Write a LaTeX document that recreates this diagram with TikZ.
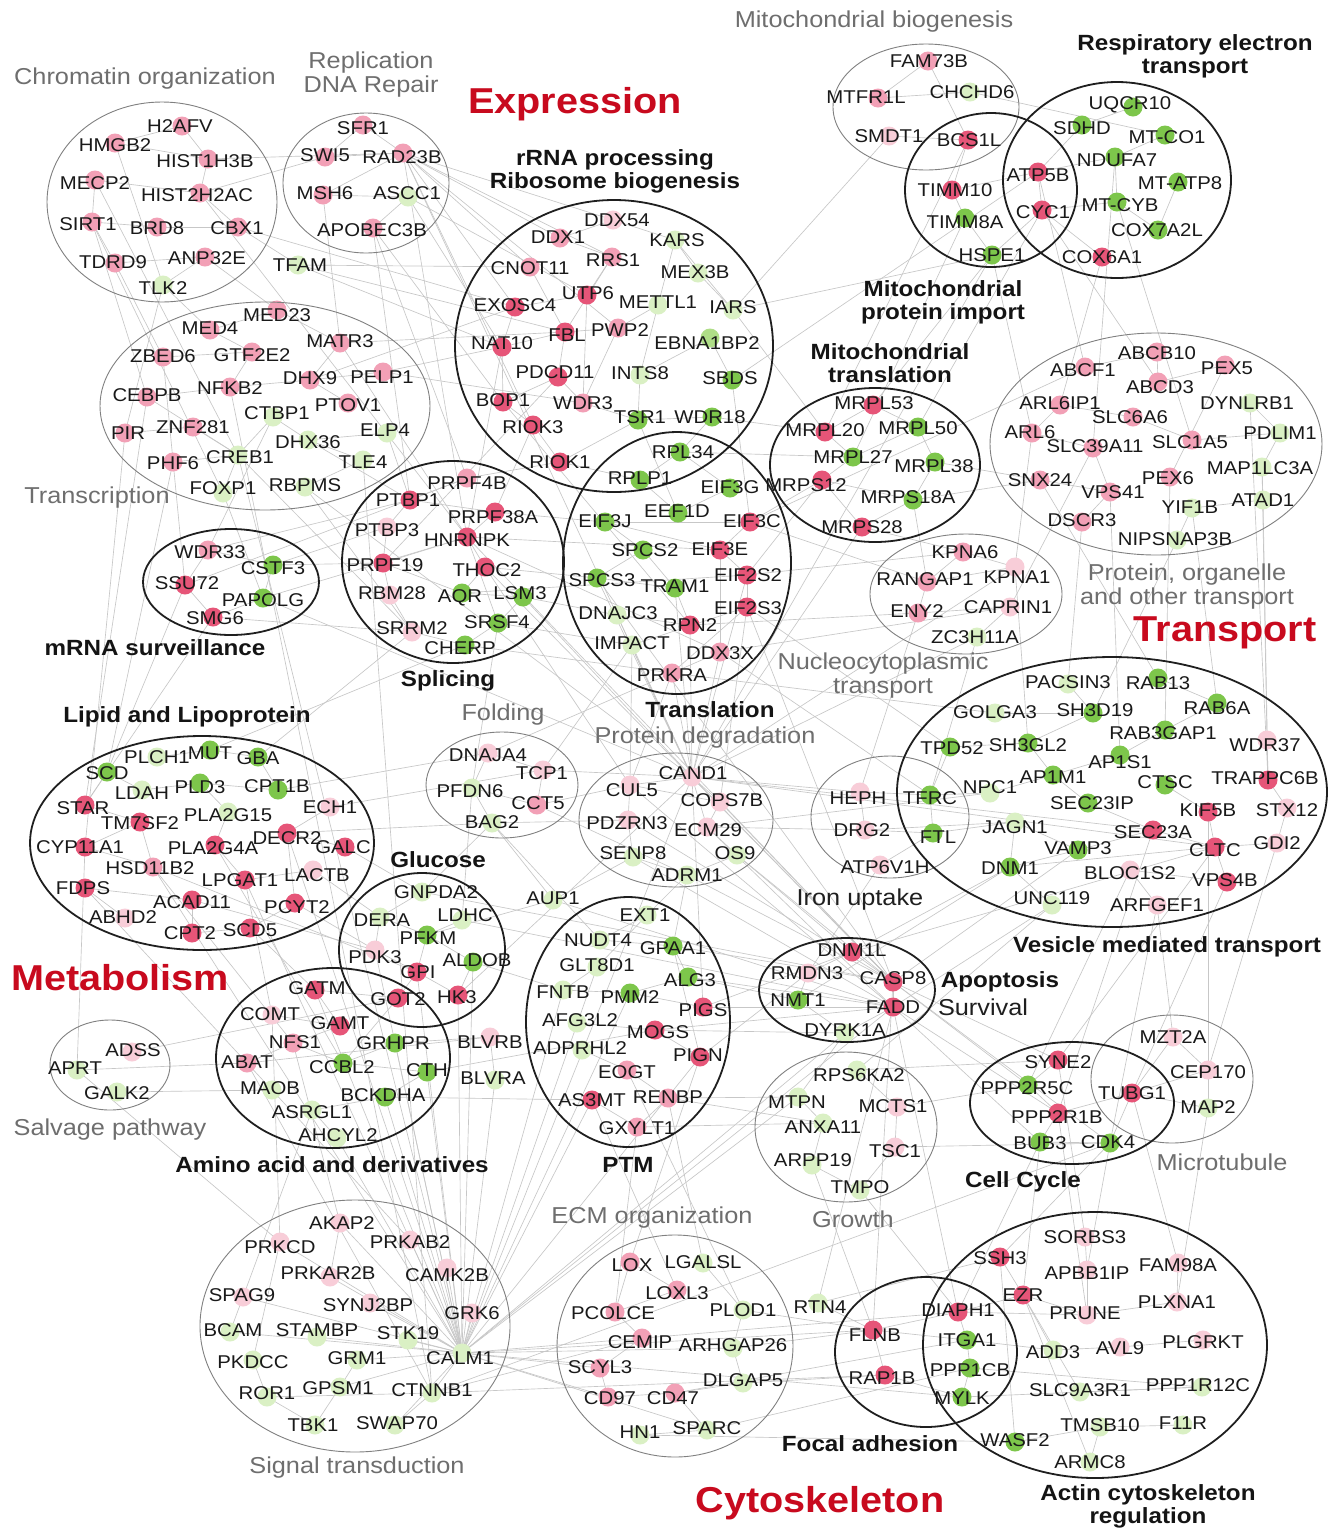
\documentclass[tikz,border=0pt]{standalone}
\usepackage{fontspec}
\setmainfont{Liberation Sans}[FakeStretch=1.1]
\usetikzlibrary{shapes.geometric}
\definecolor{pkL}{RGB}{248,205,216}
\definecolor{pkM}{RGB}{242,160,182}
\definecolor{pkD}{RGB}{230,85,120}
\definecolor{gnL}{RGB}{218,240,196}
\definecolor{gnM}{RGB}{175,222,135}
\definecolor{gnD}{RGB}{125,198,75}
\definecolor{catred}{RGB}{200,10,30}
\definecolor{catgray}{RGB}{110,110,110}
\newcommand\GNc[7]{\coordinate (#1) at (#5,#6);}
\newcommand\GNd[7]{\fill[#7] (#5,#6) circle (9.5pt);}
\newcommand\GNt[7]{\node[gene] (t#1) at (#3,#4) {#2};}
\newcommand\EL[6]{\node[#6, minimum width=#4pt*2, minimum height=#5pt*2] (#1) at (#2,#3) {};}
\newcommand\genelist{%
% chromatin
\GN{H2AFV}{H2AFV}{180}{126}{182}{126}{pkM}
\GN{HMGB2}{HMGB2}{115}{145}{115}{143}{pkM}
\GN{HIST1H3B}{HIST1H3B}{205}{161}{208}{159}{pkM}
\GN{MECP2}{MECP2}{95}{183}{95}{180}{pkM}
\GN{HIST2H2AC}{HIST2H2AC}{197}{195}{200}{193}{pkM}
\GN{SIRT1}{SIRT1}{88}{224}{92}{222}{pkM}
\GN{BRD8}{BRD8}{157}{228}{157}{227}{pkM}
\GN{CBX1}{CBX1}{237}{228}{238}{227}{pkM}
\GN{TDRD9}{TDRD9}{113}{262}{115}{263}{pkM}
\GN{ANP32E}{ANP32E}{207}{258}{205}{257}{pkM}
\GN{TLK2}{TLK2}{163}{288}{163}{285}{gnL}
\GN{TFAM}{TFAM}{300}{265}{298}{265}{gnL}
% replication
\GN{SFR1}{SFR1}{363}{128}{363}{125}{pkM}
\GN{SWI5}{SWI5}{325}{155}{325}{157}{pkM}
\GN{RAD23B}{RAD23B}{402}{157}{403}{153}{pkM}
\GN{MSH6}{MSH6}{325}{193}{323}{195}{pkM}
\GN{ASCC1}{ASCC1}{407}{193}{408}{197}{gnL}
\GN{APOBEC3B}{APOBEC3B}{372}{230}{373}{228}{pkM}
% transcription
\GN{MED4}{MED4}{210}{328}{210}{330}{pkM}
\GN{MED23}{MED23}{277}{315}{277}{310}{pkM}
\GN{MATR3}{MATR3}{340}{341}{340}{343}{pkM}
\GN{ZBED6}{ZBED6}{163}{356}{163}{357}{pkM}
\GN{GTF2E2}{GTF2E2}{252}{355}{252}{352}{pkM}
\GN{DHX9}{DHX9}{310}{378}{310}{380}{pkM}
\GN{PELP1}{PELP1}{382}{377}{383}{372}{pkM}
\GN{CEBPB}{CEBPB}{147}{395}{147}{397}{pkM}
\GN{NFKB2}{NFKB2}{230}{388}{230}{387}{pkM}
\GN{CTBP1}{CTBP1}{277}{413}{273}{417}{gnL}
\GN{PTOV1}{PTOV1}{348}{405}{348}{403}{pkM}
\GN{PIR}{PIR}{128}{433}{125}{433}{pkM}
\GN{ZNF281}{ZNF281}{193}{427}{193}{427}{pkM}
\GN{DHX36}{DHX36}{308}{442}{308}{440}{gnL}
\GN{ELP4}{ELP4}{385}{430}{387}{433}{gnL}
\GN{PHF6}{PHF6}{173}{463}{173}{462}{pkM}
\GN{CREB1}{CREB1}{240}{457}{238}{455}{gnL}
\GN{TLE4}{TLE4}{363}{462}{363}{460}{gnL}
\GN{FOXP1}{FOXP1}{223}{488}{223}{493}{gnL}
\GN{RBPMS}{RBPMS}{305}{485}{305}{487}{gnL}
% rRNA
\GN{DDX54}{DDX54}{617}{220}{613}{220}{pkL}
\GN{DDX1}{DDX1}{558}{237}{560}{238}{pkM}
\GN{KARS}{KARS}{677}{240}{675}{240}{gnL}
\GN{CNOT11}{CNOT11}{530}{268}{530}{267}{pkM}
\GN{RRS1}{RRS1}{613}{260}{612}{257}{pkM}
\GN{MEX3B}{MEX3B}{695}{272}{698}{273}{gnL}
\GN{EXOSC4}{EXOSC4}{515}{305}{515}{307}{pkD}
\GN{UTP6}{UTP6}{588}{293}{587}{295}{pkD}
\GN{METTL1}{METTL1}{658}{302}{658}{305}{gnL}
\GN{IARS}{IARS}{733}{307}{733}{310}{gnL}
\GN{NAT10}{NAT10}{502}{343}{502}{347}{pkD}
\GN{FBL}{FBL}{567}{335}{565}{332}{pkD}
\GN{PWP2}{PWP2}{620}{330}{618}{328}{pkM}
\GN{EBNA1BP2}{EBNA1BP2}{707}{343}{710}{338}{gnM}
\GN{PDCD11}{PDCD11}{555}{372}{558}{377}{pkD}
\GN{INTS8}{INTS8}{640}{373}{640}{375}{gnL}
\GN{SBDS}{SBDS}{730}{378}{732}{380}{gnD}
\GN{BOP1}{BOP1}{503}{400}{503}{402}{pkD}
\GN{WDR3}{WDR3}{583}{403}{583}{403}{pkM}
\GN{TSR1}{TSR1}{640}{417}{638}{420}{gnD}
\GN{WDR18}{WDR18}{710}{417}{712}{417}{gnD}
\GN{RIOK3}{RIOK3}{533}{427}{533}{425}{pkD}
\GN{RIOK1}{RIOK1}{560}{462}{560}{462}{pkD}
% translation
\GN{RPL34}{RPL34}{683}{452}{680}{452}{gnD}
\GN{RPLP1}{RPLP1}{640}{478}{640}{480}{gnD}
\GN{EIF3G}{EIF3G}{730}{487}{730}{488}{gnD}
\GN{EEF1D}{EEF1D}{677}{511}{678}{513}{gnD}
\GN{EIF3J}{EIF3J}{605}{521}{605}{522}{gnD}
\GN{EIF3C}{EIF3C}{752}{521}{750}{522}{pkD}
\GN{SPCS2}{SPCS2}{645}{550}{643}{550}{gnD}
\GN{EIF3E}{EIF3E}{720}{549}{720}{550}{pkD}
\GN{SPCS3}{SPCS3}{602}{580}{597}{578}{gnD}
\GN{TRAM1}{TRAM1}{675}{586}{675}{588}{gnD}
\GN{EIF2S2}{EIF2S2}{748}{575}{747}{575}{pkD}
\GN{DNAJC3}{DNAJC3}{618}{613}{617}{615}{gnL}
\GN{EIF2S3}{EIF2S3}{748}{608}{747}{607}{pkD}
\GN{RPN2}{RPN2}{690}{625}{690}{625}{pkD}
\GN{IMPACT}{IMPACT}{632}{643}{632}{645}{gnL}
\GN{DDX3X}{DDX3X}{720}{653}{720}{652}{pkM}
\GN{PRKRA}{PRKRA}{672}{675}{672}{673}{pkM}
% splicing
\GN{PRPF4B}{PRPF4B}{467}{483}{467}{478}{pkM}
\GN{PTBP1}{PTBP1}{408}{500}{410}{500}{pkD}
\GN{PRPF38A}{PRPF38A}{493}{517}{495}{512}{pkD}
\GN{PTBP3}{PTBP3}{387}{530}{387}{527}{pkL}
\GN{HNRNPK}{HNRNPK}{467}{540}{467}{537}{pkD}
\GN{PRPF19}{PRPF19}{385}{565}{383}{563}{pkD}
\GN{THOC2}{THOC2}{487}{570}{485}{567}{pkD}
\GN{RBM28}{RBM28}{392}{593}{390}{595}{pkL}
\GN{AQR}{AQR}{460}{598}{462}{593}{gnD}
\GN{LSM3}{LSM3}{520}{593}{523}{597}{gnD}
\GN{SRRM2}{SRRM2}{412}{628}{412}{632}{pkL}
\GN{SRSF4}{SRSF4}{497}{622}{498}{623}{gnD}
\GN{CHERP}{CHERP}{460}{648}{465}{645}{gnD}
% mRNA surveillance
\GN{WDR33}{WDR33}{210}{552}{208}{550}{pkM}
\GN{CSTF3}{CSTF3}{273}{568}{273}{565}{gnD}
\GN{SSU72}{SSU72}{187}{583}{185}{585}{pkD}
\GN{PAPOLG}{PAPOLG}{263}{600}{263}{598}{gnD}
\GN{SMG6}{SMG6}{215}{618}{213}{617}{pkD}
% mito biogenesis / import / respiratory
\GN{FAM73B}{FAM73B}{929}{61}{928}{61}{pkM}
\GN{MTFR1L}{MTFR1L}{866}{97}{878}{98}{pkM}
\GN{CHCHD6}{CHCHD6}{972}{92}{970}{92}{gnL}
\GN{SMDT1}{SMDT1}{889}{136}{889}{136}{pkL}
\GN{BCS1L}{BCS1L}{969}{140}{968}{140}{pkD}
\GN{TIMM10}{TIMM10}{955}{190}{952}{190}{pkD}
\GN{TIMM8A}{TIMM8A}{965}{222}{965}{218}{gnD}
\GN{HSPE1}{HSPE1}{992}{255}{992}{255}{gnD}
\GN{ATP5B}{ATP5B}{1038}{175}{1038}{172}{pkD}
\GN{CYC1}{CYC1}{1043}{212}{1042}{210}{pkD}
\GN{UQCR10}{UQCR10}{1130}{105}{1133}{107}{gnD}
\GN{SDHD}{SDHD}{1082}{128}{1082}{125}{gnD}
\GN{MTCO1}{MT-CO1}{1167}{137}{1165}{135}{gnD}
\GN{NDUFA7}{NDUFA7}{1117}{160}{1115}{157}{gnD}
\GN{MTATP8}{MT-ATP8}{1180}{183}{1178}{182}{gnD}
\GN{MTCYB}{MT-CYB}{1120}{205}{1117}{202}{gnD}
\GN{COX7A2L}{COX7A2L}{1157}{230}{1158}{230}{gnD}
\GN{COX6A1}{COX6A1}{1102}{257}{1102}{257}{pkD}
% mito translation
\GN{MRPL53}{MRPL53}{874}{403}{873}{405}{pkD}
\GN{MRPL20}{MRPL20}{825}{430}{825}{432}{pkD}
\GN{MRPL50}{MRPL50}{918}{428}{918}{427}{gnD}
\GN{MRPL27}{MRPL27}{853}{457}{853}{457}{gnD}
\GN{MRPL38}{MRPL38}{934}{466}{935}{462}{gnD}
\GN{MRPS12}{MRPS12}{806}{485}{822}{480}{pkD}
\GN{MRPS18A}{MRPS18A}{908}{497}{913}{500}{gnD}
\GN{MRPS28}{MRPS28}{862}{527}{862}{527}{pkD}
% protein organelle transport
\GN{ABCB10}{ABCB10}{1157}{353}{1157}{352}{pkM}
\GN{ABCF1}{ABCF1}{1083}{370}{1085}{367}{pkM}
\GN{PEX5}{PEX5}{1227}{368}{1225}{365}{pkM}
\GN{ABCD3}{ABCD3}{1160}{387}{1158}{382}{pkM}
\GN{ARL6IP1}{ARL6IP1}{1060}{403}{1060}{405}{pkM}
\GN{DYNLRB1}{DYNLRB1}{1247}{403}{1250}{403}{gnL}
\GN{SLC6A6}{SLC6A6}{1130}{417}{1133}{417}{pkM}
\GN{ARL6}{ARL6}{1030}{432}{1032}{433}{pkM}
\GN{SLC39A11}{SLC39A11}{1095}{446}{1093}{448}{pkM}
\GN{SLC1A5}{SLC1A5}{1190}{442}{1192}{440}{pkM}
\GN{PDLIM1}{PDLIM1}{1280}{433}{1280}{433}{gnL}
\GN{SNX24}{SNX24}{1040}{480}{1040}{480}{pkM}
\GN{VPS41}{VPS41}{1113}{492}{1110}{492}{pkM}
\GN{PEX6}{PEX6}{1168}{478}{1170}{477}{pkM}
\GN{MAP1LC3A}{MAP1LC3A}{1260}{468}{1262}{467}{gnL}
\GN{YIF1B}{YIF1B}{1190}{507}{1192}{508}{gnL}
\GN{ATAD1}{ATAD1}{1263}{500}{1263}{500}{gnL}
\GN{DSCR3}{DSCR3}{1082}{520}{1082}{522}{pkM}
\GN{NIPSNAP3B}{NIPSNAP3B}{1175}{539}{1177}{540}{gnL}
% nucleocytoplasmic
\GN{KPNA6}{KPNA6}{965}{552}{963}{552}{pkM}
\GN{RANGAP1}{RANGAP1}{925}{579}{927}{582}{pkM}
\GN{KPNA1}{KPNA1}{1017}{577}{1015}{567}{pkL}
\GN{ENY2}{ENY2}{917}{611}{918}{613}{pkM}
\GN{CAPRIN1}{CAPRIN1}{1008}{607}{1010}{607}{pkL}
\GN{ZC3H11A}{ZC3H11A}{975}{637}{977}{637}{gnL}
% vesicle
\GN{PACSIN3}{PACSIN3}{1068}{682}{1068}{684}{gnL}
\GN{RAB13}{RAB13}{1158}{683}{1158}{678}{gnD}
\GN{GOLGA3}{GOLGA3}{995}{712}{995}{713}{gnL}
\GN{SH3D19}{SH3D19}{1095}{710}{1093}{713}{gnD}
\GN{RAB6A}{RAB6A}{1217}{708}{1217}{703}{gnD}
\GN{TPD52}{TPD52}{952}{748}{950}{747}{gnD}
\GN{SH3GL2}{SH3GL2}{1028}{745}{1028}{743}{gnD}
\GN{RAB3GAP1}{RAB3GAP1}{1163}{733}{1165}{730}{gnD}
\GN{WDR37}{WDR37}{1265}{745}{1267}{740}{pkL}
\GN{AP1S1}{AP1S1}{1120}{762}{1120}{755}{gnD}
\GN{AP1M1}{AP1M1}{1053}{777}{1053}{775}{gnD}
\GN{NPC1}{NPC1}{990}{787}{990}{793}{gnL}
\GN{CTSC}{CTSC}{1165}{782}{1165}{785}{gnD}
\GN{TRAPPC6B}{TRAPPC6B}{1265}{778}{1268}{780}{pkD}
\GN{SEC23IP}{SEC23IP}{1092}{803}{1088}{803}{gnD}
\GN{KIF5B}{KIF5B}{1208}{810}{1208}{812}{pkD}
\GN{STX12}{STX12}{1287}{810}{1287}{808}{pkL}
\GN{JAGN1}{JAGN1}{1015}{827}{1015}{822}{gnL}
\GN{SEC23A}{SEC23A}{1153}{832}{1153}{830}{pkD}
\GN{CLTC}{CLTC}{1215}{850}{1215}{847}{pkD}
\GN{GDI2}{GDI2}{1277}{843}{1277}{843}{pkL}
\GN{VAMP3}{VAMP3}{1078}{848}{1078}{850}{gnD}
\GN{DNM1}{DNM1}{1010}{868}{1010}{867}{gnD}
\GN{BLOC1S2}{BLOC1S2}{1130}{873}{1130}{870}{pkL}
\GN{VPS4B}{VPS4B}{1225}{880}{1227}{882}{pkD}
\GN{UNC119}{UNC119}{1052}{898}{1052}{905}{gnL}
\GN{ARFGEF1}{ARFGEF1}{1157}{905}{1157}{905}{pkL}
% iron
\GN{HEPH}{HEPH}{858}{798}{860}{792}{pkL}
\GN{TFRC}{TFRC}{930}{798}{930}{795}{gnD}
\GN{DRG2}{DRG2}{862}{830}{865}{830}{pkL}
\GN{FTL}{FTL}{938}{837}{933}{833}{gnD}
\GN{ATP6V1H}{ATP6V1H}{885}{867}{880}{865}{pkL}
% lipid
\GN{PLCH1}{PLCH1}{157}{757}{157}{757}{gnL}
\GN{MUT}{MUT}{210}{753}{210}{750}{gnD}
\GN{GBA}{GBA}{258}{758}{258}{757}{gnD}
\GN{SCD}{SCD}{107}{773}{107}{772}{gnD}
\GN{LDAH}{LDAH}{142}{793}{142}{790}{gnL}
\GN{PLD3}{PLD3}{200}{787}{200}{783}{gnD}
\GN{CPT1B}{CPT1B}{277}{786}{278}{790}{gnD}
\GN{STAR}{STAR}{83}{808}{85}{805}{pkD}
\GN{ECH1}{ECH1}{330}{807}{330}{807}{pkL}
\GN{TM7SF2}{TM7SF2}{140}{823}{140}{822}{pkD}
\GN{PLA2G15}{PLA2G15}{228}{815}{228}{812}{gnL}
\GN{CYP11A1}{CYP11A1}{80}{847}{85}{847}{pkD}
\GN{PLA2G4A}{PLA2G4A}{213}{848}{215}{845}{pkD}
\GN{DECR2}{DECR2}{287}{838}{287}{833}{pkD}
\GN{GALC}{GALC}{343}{847}{345}{847}{pkD}
\GN{HSD11B2}{HSD11B2}{150}{868}{153}{867}{pkM}
\GN{LPGAT1}{LPGAT1}{240}{880}{245}{880}{pkD}
\GN{LACTB}{LACTB}{317}{875}{313}{870}{pkL}
\GN{FDPS}{FDPS}{83}{888}{85}{888}{pkD}
\GN{ACAD11}{ACAD11}{192}{902}{192}{900}{pkD}
\GN{PCYT2}{PCYT2}{297}{907}{295}{903}{pkD}
\GN{ABHD2}{ABHD2}{123}{917}{125}{918}{pkL}
\GN{CPT2}{CPT2}{190}{933}{192}{933}{pkD}
\GN{SCD5}{SCD5}{250}{930}{250}{928}{pkD}
% folding
\GN{DNAJA4}{DNAJA4}{488}{755}{488}{753}{pkL}
\GN{TCP1}{TCP1}{542}{773}{543}{770}{pkL}
\GN{PFDN6}{PFDN6}{470}{791}{472}{788}{gnL}
\GN{CCT5}{CCT5}{538}{803}{537}{805}{pkM}
\GN{BAG2}{BAG2}{492}{822}{492}{823}{gnL}
% degradation
\GN{CAND1}{CAND1}{693}{773}{692}{777}{pkL}
\GN{CUL5}{CUL5}{632}{790}{630}{785}{pkL}
\GN{COPS7B}{COPS7B}{722}{800}{720}{802}{pkL}
\GN{PDZRN3}{PDZRN3}{627}{823}{628}{820}{pkL}
\GN{ECM29}{ECM29}{708}{830}{707}{827}{pkL}
\GN{SENP8}{SENP8}{633}{853}{633}{857}{gnL}
\GN{OS9}{OS9}{735}{853}{737}{855}{gnL}
\GN{ADRM1}{ADRM1}{687}{875}{687}{875}{gnL}
\GN{AUP1}{AUP1}{553}{898}{553}{900}{gnL}
% glucose
\GN{GNPDA2}{GNPDA2}{436}{892}{422}{892}{gnL}
\GN{DERA}{DERA}{382}{920}{380}{917}{gnL}
\GN{LDHC}{LDHC}{465}{915}{462}{920}{gnL}
\GN{PFKM}{PFKM}{428}{938}{427}{935}{gnD}
\GN{PDK3}{PDK3}{375}{957}{375}{950}{pkL}
\GN{ALDOB}{ALDOB}{477}{960}{473}{962}{gnD}
\GN{GPI}{GPI}{418}{972}{417}{972}{pkD}
\GN{HK3}{HK3}{457}{997}{458}{995}{pkD}
\GN{GOT2}{GOT2}{398}{999}{398}{998}{pkD}
% amino acid
\GN{GATM}{GATM}{317}{988}{315}{990}{pkD}
\GN{COMT}{COMT}{270}{1014}{272}{1015}{pkL}
\GN{GAMT}{GAMT}{340}{1023}{340}{1026}{pkD}
\GN{NFS1}{NFS1}{295}{1042}{293}{1043}{pkM}
\GN{GRHPR}{GRHPR}{393}{1043}{395}{1043}{gnD}
\GN{ABAT}{ABAT}{247}{1062}{247}{1063}{pkM}
\GN{CCBL2}{CCBL2}{342}{1067}{343}{1063}{gnD}
\GN{CTH}{CTH}{427}{1070}{427}{1072}{gnD}
\GN{MAOB}{MAOB}{270}{1088}{272}{1090}{gnL}
\GN{BCKDHA}{BCKDHA}{383}{1095}{385}{1097}{gnD}
\GN{ASRGL1}{ASRGL1}{312}{1112}{312}{1110}{gnL}
\GN{AHCYL2}{AHCYL2}{338}{1135}{337}{1138}{gnL}
\GN{BLVRB}{BLVRB}{490}{1042}{490}{1037}{pkL}
\GN{BLVRA}{BLVRA}{493}{1078}{495}{1080}{gnL}
% salvage
\GN{ADSS}{ADSS}{133}{1050}{132}{1052}{pkL}
\GN{APRT}{APRT}{75}{1068}{77}{1070}{gnL}
\GN{GALK2}{GALK2}{117}{1093}{117}{1092}{gnL}
% signal transduction
\GN{AKAP2}{AKAP2}{342}{1223}{340}{1223}{pkL}
\GN{PRKCD}{PRKCD}{280}{1247}{280}{1242}{pkL}
\GN{PRKAB2}{PRKAB2}{410}{1242}{410}{1240}{pkL}
\GN{PRKAR2B}{PRKAR2B}{328}{1273}{330}{1277}{pkL}
\GN{CAMK2B}{CAMK2B}{447}{1275}{447}{1268}{pkL}
\GN{SPAG9}{SPAG9}{242}{1295}{243}{1297}{pkL}
\GN{SYNJ2BP}{SYNJ2BP}{368}{1305}{370}{1303}{pkL}
\GN{GRK6}{GRK6}{472}{1313}{472}{1313}{pkL}
\GN{BCAM}{BCAM}{233}{1330}{230}{1332}{gnL}
\GN{STAMBP}{STAMBP}{317}{1330}{317}{1337}{gnL}
\GN{STK19}{STK19}{408}{1333}{408}{1340}{gnL}
\GN{PKDCC}{PKDCC}{253}{1362}{253}{1360}{gnL}
\GN{GRM1}{GRM1}{357}{1358}{357}{1360}{gnL}
\GN{CALM1}{CALM1}{460}{1358}{462}{1353}{gnL}
\GN{ROR1}{ROR1}{267}{1393}{267}{1397}{gnL}
\GN{GPSM1}{GPSM1}{338}{1388}{340}{1387}{gnL}
\GN{CTNNB1}{CTNNB1}{432}{1390}{432}{1393}{gnL}
\GN{TBK1}{TBK1}{313}{1425}{315}{1425}{gnL}
\GN{SWAP70}{SWAP70}{397}{1423}{395}{1425}{gnL}
% PTM
\GN{EXT1}{EXT1}{645}{915}{647}{915}{gnL}
\GN{NUDT4}{NUDT4}{598}{940}{600}{940}{gnL}
\GN{GPAA1}{GPAA1}{673}{948}{673}{946}{gnD}
\GN{GLT8D1}{GLT8D1}{597}{965}{597}{967}{gnL}
\GN{ALG3}{ALG3}{690}{980}{688}{977}{gnD}
\GN{FNTB}{FNTB}{563}{992}{563}{990}{gnL}
\GN{PMM2}{PMM2}{630}{997}{630}{993}{gnD}
\GN{PIGS}{PIGS}{703}{1010}{703}{1007}{pkD}
\GN{AFG3L2}{AFG3L2}{580}{1020}{577}{1023}{gnL}
\GN{MOGS}{MOGS}{658}{1032}{655}{1030}{pkD}
\GN{ADPRHL2}{ADPRHL2}{580}{1048}{582}{1050}{gnL}
\GN{PIGN}{PIGN}{698}{1055}{700}{1057}{pkD}
\GN{EOGT}{EOGT}{627}{1072}{627}{1070}{pkM}
\GN{AS3MT}{AS3MT}{592}{1100}{592}{1100}{pkD}
\GN{RENBP}{RENBP}{668}{1097}{668}{1098}{pkM}
\GN{GXYLT1}{GXYLT1}{637}{1128}{637}{1127}{pkM}
% ECM
\GN{LOX}{LOX}{632}{1265}{630}{1262}{pkM}
\GN{LGALSL}{LGALSL}{703}{1262}{703}{1263}{gnL}
\GN{LOXL3}{LOXL3}{677}{1293}{677}{1290}{pkM}
\GN{PCOLCE}{PCOLCE}{613}{1313}{615}{1312}{pkM}
\GN{PLOD1}{PLOD1}{743}{1310}{743}{1310}{gnL}
\GN{RTN4}{RTN4}{820}{1307}{818}{1303}{gnL}
\GN{CEMIP}{CEMIP}{640}{1342}{642}{1338}{pkM}
\GN{ARHGAP26}{ARHGAP26}{733}{1345}{733}{1348}{gnL}
\GN{SCYL3}{SCYL3}{600}{1367}{600}{1368}{pkM}
\GN{DLGAP5}{DLGAP5}{743}{1380}{743}{1383}{gnL}
\GN{CD97}{CD97}{610}{1398}{608}{1397}{pkM}
\GN{CD47}{CD47}{673}{1398}{675}{1393}{pkM}
\GN{HN1}{HN1}{640}{1432}{640}{1435}{gnL}
\GN{SPARC}{SPARC}{707}{1428}{707}{1430}{gnL}
% apoptosis
\GN{DNM1L}{DNM1L}{852}{950}{852}{952}{pkD}
\GN{RMDN3}{RMDN3}{807}{973}{808}{973}{pkL}
\GN{CASP8}{CASP8}{893}{978}{893}{982}{pkD}
\GN{NMT1}{NMT1}{798}{1000}{798}{1000}{gnD}
\GN{FADD}{FADD}{893}{1007}{893}{1007}{pkD}
\GN{DYRK1A}{DYRK1A}{845}{1030}{845}{1033}{gnL}
% growth
\GN{RPS6KA2}{RPS6KA2}{859}{1075}{857}{1070}{gnL}
\GN{MTPN}{MTPN}{797}{1102}{798}{1097}{gnL}
\GN{MCTS1}{MCTS1}{893}{1106}{897}{1107}{pkL}
\GN{ANXA11}{ANXA11}{823}{1127}{823}{1123}{gnL}
\GN{ARPP19}{ARPP19}{813}{1160}{812}{1165}{gnL}
\GN{TSC1}{TSC1}{895}{1151}{895}{1147}{pkL}
\GN{TMPO}{TMPO}{860}{1187}{860}{1190}{gnL}
% cell cycle
\GN{SYNE2}{SYNE2}{1058}{1062}{1058}{1060}{pkD}
\GN{PPP2R5C}{PPP2R5C}{1027}{1088}{1028}{1085}{gnD}
\GN{TUBG1}{TUBG1}{1132}{1093}{1132}{1093}{pkD}
\GN{PPP2R1B}{PPP2R1B}{1057}{1117}{1058}{1113}{pkD}
\GN{BUB3}{BUB3}{1040}{1143}{1040}{1142}{gnD}
\GN{CDK4}{CDK4}{1108}{1142}{1110}{1143}{gnD}
% microtubule
\GN{MZT2A}{MZT2A}{1173}{1037}{1173}{1037}{pkL}
\GN{CEP170}{CEP170}{1208}{1072}{1208}{1070}{pkL}
\GN{MAP2}{MAP2}{1208}{1107}{1208}{1108}{gnL}
% focal adhesion
\GN{FLNB}{FLNB}{875}{1335}{873}{1330}{pkD}
\GN{RAP1B}{RAP1B}{882}{1378}{885}{1375}{pkD}
\GN{DIAPH1}{DIAPH1}{958}{1310}{958}{1312}{pkD}
\GN{ITGA1}{ITGA1}{967}{1340}{967}{1340}{gnD}
\GN{PPP1CB}{PPP1CB}{970}{1370}{970}{1368}{gnD}
\GN{MYLK}{MYLK}{962}{1398}{962}{1397}{gnD}
% actin
\GN{SORBS3}{SORBS3}{1085}{1237}{1085}{1237}{pkL}
\GN{SSH3}{SSH3}{1000}{1258}{1000}{1257}{pkD}
\GN{APBB1IP}{APBB1IP}{1087}{1273}{1087}{1270}{pkL}
\GN{FAM98A}{FAM98A}{1178}{1265}{1178}{1263}{pkL}
\GN{EZR}{EZR}{1023}{1295}{1023}{1295}{pkD}
\GN{PRUNE}{PRUNE}{1085}{1313}{1087}{1315}{pkL}
\GN{PLXNA1}{PLXNA1}{1177}{1302}{1177}{1302}{pkL}
\GN{ADD3}{ADD3}{1053}{1352}{1053}{1350}{gnL}
\GN{AVL9}{AVL9}{1120}{1348}{1120}{1347}{pkL}
\GN{PLGRKT}{PLGRKT}{1203}{1342}{1203}{1340}{pkL}
\GN{SLC9A3R1}{SLC9A3R1}{1080}{1390}{1080}{1392}{gnL}
\GN{PPP1R12C}{PPP1R12C}{1198}{1385}{1202}{1387}{gnL}
\GN{WASF2}{WASF2}{1015}{1440}{1015}{1442}{gnD}
\GN{TMSB10}{TMSB10}{1100}{1425}{1100}{1427}{gnL}
\GN{F11R}{F11R}{1183}{1423}{1183}{1425}{gnL}
\GN{ARMC8}{ARMC8}{1090}{1462}{1090}{1462}{gnL}
}
\begin{document}
\begin{tikzpicture}[x=1pt,y=-1pt,
 gene/.style={font=\fontsize{18.5}{20}\selectfont, inner sep=0pt, text=black!90},
 cat/.style={font=\fontsize{23}{24}\selectfont, text=catgray, align=center, inner sep=0pt},
 blk/.style={font=\bfseries\fontsize{22}{23}\selectfont, align=center, inner sep=0pt, text=black!92},
 reg/.style={font=\fontsize{23}{24}\selectfont, inner sep=0pt, text=black!88},
 big/.style={font=\bfseries\fontsize{36}{38}\selectfont, text=catred, inner sep=0pt},
 thinell/.style={ellipse, draw=black!50, line width=0.9pt, inner sep=0pt},
 thickell/.style={ellipse, draw=black!88, line width=1.8pt, inner sep=0pt},
 edge/.style={draw=black!22, line width=0.65pt}]
\fill[white] (0,0) rectangle (1330,1532);
\useasboundingbox (0,0) rectangle (1330,1532);

% pass 1: coordinates of the gene dots
\let\GN\GNc \genelist

% ---------- edges ----------
\foreach \a/\b in {DDX54/DDX1, DDX1/RRS1, RRS1/UTP6, UTP6/EXOSC4, EXOSC4/NAT10, NAT10/FBL, FBL/PWP2, PWP2/METTL1, METTL1/KARS, KARS/MEX3B, MEX3B/IARS, FBL/PDCD11, PDCD11/BOP1, BOP1/RIOK3, WDR3/PDCD11, WDR3/TSR1, TSR1/WDR18, RIOK1/RIOK3, RIOK1/TSR1, INTS8/EBNA1BP2, SBDS/EBNA1BP2, UTP6/WDR3, FBL/CNOT11, PWP2/WDR3, METTL1/INTS8, KARS/IARS, DDX54/KARS, RRS1/FBL, NAT10/BOP1, INTS8/TSR1,
RPL34/RPLP1, RPLP1/EEF1D, EEF1D/EIF3G, EIF3J/EIF3C, EIF3E/EIF3C, EIF3E/EIF2S2, EIF2S2/EIF2S3, SPCS2/SPCS3, SPCS3/TRAM1, TRAM1/RPN2, RPN2/DNAJC3, IMPACT/EIF2S3, DDX3X/EIF3E, PRKRA/EIF2S3, SPCS2/TRAM1, EIF3J/EIF3E, RPL34/EIF3G, RPLP1/RIOK1, RPL34/WDR18, EEF1D/TSR1, RPN2/BOP1, EIF3C/SBDS, EIF3J/SPCS2, DDX3X/PRKRA,
PRPF4B/PTBP1, PTBP1/PRPF38A, PRPF38A/HNRNPK, HNRNPK/THOC2, THOC2/AQR, AQR/LSM3, LSM3/SRSF4, SRSF4/CHERP, CHERP/SRRM2, SRRM2/RBM28, RBM28/PRPF19, PRPF19/PTBP3, PTBP3/PTBP1, HNRNPK/PRPF19, PRPF19/AQR, HNRNPK/SRSF4, HNRNPK/DDX3X, HNRNPK/EIF3E, PRPF38A/RIOK3, THOC2/SPCS3, SRSF4/IMPACT, PRPF19/PDCD11, HNRNPK/NAT10, CHERP/PRKRA, LSM3/DNAJC3, AQR/EIF2S2, PRPF4B/RIOK1, PRPF38A/EIF3J,
WDR33/CSTF3, CSTF3/PAPOLG, SSU72/WDR33, SSU72/SMG6, SMG6/PAPOLG, CSTF3/PRPF19, PAPOLG/HNRNPK, SMG6/SRRM2, WDR33/PTBP1, SSU72/PRPF4B, PAPOLG/CAND1, CSTF3/PTBP3,
MED4/MED23, MED23/MATR3, ZBED6/GTF2E2, GTF2E2/NFKB2, NFKB2/DHX9, DHX9/PELP1, DHX9/PTOV1, CEBPB/NFKB2, PIR/ZNF281, ZNF281/CREB1, CREB1/CTBP1, CTBP1/DHX36, DHX36/ELP4, DHX36/TLE4, TLE4/RBPMS, FOXP1/CREB1, PHF6/CREB1, CEBPB/CREB1, MED4/GTF2E2, MATR3/DHX9, MATR3/HNRNPK, DHX9/EXOSC4, PELP1/NAT10, DHX36/PTBP1, CREB1/SRRM2, MATR3/FBL, FOXP1/PAPOLG, NFKB2/CTNNB1, CREB1/CALM1, CEBPB/STAR, PHF6/SCD, TLE4/CTNNB1, RBPMS/CAND1, PELP1/WDR3, ELP4/PTBP1, PIR/CYP11A1, ZBED6/SSU72, CTBP1/WDR33, RBPMS/SRRM2,
HMGB2/H2AFV, H2AFV/HIST1H3B, HIST1H3B/HIST2H2AC, MECP2/HIST2H2AC, SIRT1/BRD8, BRD8/CBX1, CBX1/HIST2H2AC, TDRD9/ANP32E, ANP32E/TLK2, SIRT1/TDRD9, MECP2/SIRT1, HIST2H2AC/SWI5, HIST1H3B/RAD23B, TLK2/MED4, TDRD9/ZBED6, SIRT1/CEBPB, CBX1/TFAM, HMGB2/TLK2, ANP32E/MED23, MECP2/CREB1, SIRT1/FOXP1, HIST2H2AC/HNRNPK, CBX1/EXOSC4, TFAM/CNOT11, TFAM/FBL, TFAM/NAT10, HMGB2/HIST1H3B, TLK2/PIR,
SFR1/SWI5, SWI5/RAD23B, RAD23B/MSH6, MSH6/ASCC1, ASCC1/APOBEC3B, RAD23B/CAND1, RAD23B/EXOSC4, RAD23B/DDX1, ASCC1/UTP6, APOBEC3B/PTBP1, APOBEC3B/PRPF4B, RAD23B/HNRNPK, RAD23B/CNOT11, RAD23B/PWP2, MSH6/MATR3, RAD23B/RIOK3, APOBEC3B/BOP1, RAD23B/DDX54, RAD23B/RRS1, ASCC1/NAT10, SFR1/RAD23B}
 \draw[edge] (\a) -- (\b);
\foreach \a/\b in {FAM73B/MTFR1L, MTFR1L/CHCHD6, SMDT1/BCS1L, BCS1L/TIMM10, TIMM10/TIMM8A, TIMM8A/HSPE1, ATP5B/CYC1, ATP5B/NDUFA7, CYC1/MTCYB, SDHD/UQCR10, MTCO1/NDUFA7, MTATP8/COX7A2L, COX6A1/CYC1, COX7A2L/MTCYB, NDUFA7/MTCYB, HSPE1/CYC1, ATP5B/TIMM10, HSPE1/MRPL53, HSPE1/CAND1, CYC1/ABCD3, ATP5B/ABCF1, NDUFA7/SLC39A11, COX6A1/ARL6IP1, BCS1L/MRPL20, TIMM8A/MRPL27, HSPE1/IARS, SMDT1/IARS, ATP5B/SBDS, MTCYB/SLC1A5, CHCHD6/MTCO1, HSPE1/ARL6, CYC1/MRPL50, SDHD/ATP5B, FAM73B/BCS1L,
MRPL53/MRPL20, MRPL20/MRPL27, MRPL27/MRPL50, MRPL50/MRPL38, MRPL27/MRPS12, MRPS12/MRPS18A, MRPS18A/MRPS28, MRPL38/MRPS18A, MRPS12/MRPS28, MRPL53/MRPL50, MRPS12/EIF3C, MRPL20/IARS, MRPL20/WDR18, MRPS28/KPNA6, MRPS12/EIF2S2, MRPL38/SNX24, MRPS18A/RANGAP1, MRPL27/RPL34,
ABCF1/ABCB10, ABCB10/ABCD3, ABCD3/PEX5, PEX5/PEX6, ARL6IP1/SLC6A6, ARL6/SLC39A11, SLC39A11/VPS41, SNX24/VPS41, VPS41/DSCR3, SLC1A5/PDLIM1, PDLIM1/MAP1LC3A, MAP1LC3A/ATAD1, YIF1B/ATAD1, YIF1B/NIPSNAP3B, DYNLRB1/PDLIM1, SLC6A6/SLC1A5, ARL6/ARL6IP1, SNX24/RAB13, VPS41/AP1S1, DSCR3/PACSIN3, YIF1B/RAB6A, MAP1LC3A/WDR37, ATAD1/TRAPPC6B, NIPSNAP3B/SH3D19, ARL6/KPNA1, SLC39A11/CAPRIN1, PEX6/RAB3GAP1, DYNLRB1/TRAPPC6B, ABCF1/EIF3C, SNX24/MRPS18A,
KPNA6/KPNA1, RANGAP1/KPNA1, ENY2/CAPRIN1, ZC3H11A/CAPRIN1, RANGAP1/ENY2, KPNA6/RANGAP1, RANGAP1/EIF3C, ENY2/HEPH, ZC3H11A/TFRC, CAPRIN1/DDX3X, KPNA1/SH3GL2, KPNA6/EIF2S2, ZC3H11A/CAND1, ENY2/RPN2,
PACSIN3/SH3D19, SH3D19/SH3GL2, SH3GL2/AP1M1, AP1M1/AP1S1, AP1S1/RAB3GAP1, RAB3GAP1/RAB6A, RAB13/RAB6A, TPD52/SH3GL2, GOLGA3/SH3D19, NPC1/AP1M1, SEC23IP/SEC23A, SEC23A/CLTC, CLTC/VPS4B, KIF5B/CLTC, STX12/GDI2, TRAPPC6B/STX12, JAGN1/VAMP3, VAMP3/DNM1, DNM1/UNC119, BLOC1S2/ARFGEF1, VAMP3/SEC23A, CTSC/KIF5B, WDR37/TRAPPC6B, AP1M1/SEC23IP, CLTC/DNM1, BLOC1S2/VPS4B, GDI2/CLTC, DNM1/JAGN1, TFRC/FTL, HEPH/TFRC, DRG2/FTL, ATP6V1H/FTL, HEPH/DRG2, TFRC/NPC1, FTL/JAGN1, TPD52/TFRC, CLTC/DNM1L, DNM1/DNM1L, SEC23A/CAND1, VAMP3/CASP8, CLTC/SYNE2, VPS4B/TUBG1, ARFGEF1/CDK4, UNC119/FADD, DNM1/NMT1, SEC23A/PPP2R1B, KIF5B/MAP2, GDI2/CEP170, JAGN1/DRG2, ARFGEF1/MZT2A, BLOC1S2/PPP2R5C, UNC119/RPS6KA2, TPD52/EIF2S3, GOLGA3/PRKRA, NPC1/ECM29, TFRC/DDX3X, ATP6V1H/RMDN3}
 \draw[edge] (\a) -- (\b);
\foreach \a/\b in {DNM1L/RMDN3, RMDN3/NMT1, CASP8/FADD, FADD/DYRK1A, NMT1/DYRK1A, CASP8/DNM1L, CASP8/CAND1, CASP8/EIF2S3, FADD/ECM29, CASP8/PDZRN3, FADD/CUL5, CASP8/HNRNPK, FADD/PIGS, CASP8/SPCS3, FADD/ALG3, CASP8/ADRM1, FADD/MOGS, CASP8/COPS7B, FADD/AUP1, CASP8/GNPDA2, FADD/RTN4, CASP8/SYNE2, CASP8/PPP2R5C, FADD/PPP2R1B, FADD/BUB3, CASP8/CDK4, DYRK1A/MTPN, DYRK1A/CALM1, FADD/CALM1, CASP8/FLNB, FADD/DIAPH1, CASP8/THOC2, FADD/LDHC, CASP8/OS9, FADD/SENP8,
RPS6KA2/MCTS1, MTPN/ANXA11, ANXA11/ARPP19, TSC1/MCTS1, ARPP19/TMPO, TSC1/TMPO, TSC1/CDK4, MCTS1/PPP2R5C, RPS6KA2/SYNE2, MTPN/CALM1, ARPP19/FLNB, TMPO/DIAPH1, ANXA11/RENBP,
SYNE2/PPP2R5C, PPP2R5C/PPP2R1B, PPP2R1B/BUB3, BUB3/CDK4, TUBG1/CDK4, TUBG1/PPP2R1B, TUBG1/MZT2A, MZT2A/CEP170, CEP170/MAP2, TUBG1/CEP170, TUBG1/MAP2, CDK4/SSH3, BUB3/EZR, SYNE2/SORBS3, TUBG1/FAM98A, MAP2/PLXNA1, PPP2R1B/PRUNE, BUB3/DIAPH1, CDK4/APBB1IP,
FLNB/RAP1B, FLNB/DIAPH1, DIAPH1/ITGA1, ITGA1/PPP1CB, PPP1CB/MYLK, RAP1B/MYLK, FLNB/ITGA1, DIAPH1/EZR, EZR/SSH3, EZR/PRUNE, PRUNE/PLXNA1, SORBS3/APBB1IP, APBB1IP/PRUNE, ADD3/AVL9, AVL9/PLGRKT, SLC9A3R1/PPP1R12C, TMSB10/F11R, WASF2/TMSB10, ARMC8/TMSB10, EZR/SLC9A3R1, MYLK/PPP1R12C, EZR/ARMC8, WASF2/SSH3, PPP1CB/PPP1R12C, FAM98A/PLXNA1, ADD3/EZR, ITGA1/ADD3, DIAPH1/PRUNE, FLNB/CALM1, FLNB/ARHGAP26, MYLK/CALM1, RAP1B/DLGAP5, DIAPH1/CALM1, PPP1CB/SPARC, ITGA1/CD47, FLNB/PLOD1, WASF2/HN1, SSH3/RTN4, RAP1B/CTNNB1, RTN4/FLNB,
LOX/LOXL3, LOXL3/PCOLCE, PCOLCE/CEMIP, CEMIP/SCYL3, SCYL3/CD97, CD97/CD47, CD47/SPARC, SPARC/HN1, LGALSL/PLOD1, PLOD1/ARHGAP26, ARHGAP26/DLGAP5, LOX/PCOLCE, DLGAP5/CD47, CD97/CALM1, SCYL3/CALM1, CEMIP/CTNNB1, LOX/PIGN, LGALSL/RENBP, PCOLCE/GXYLT1, ARHGAP26/CALM1, LOXL3/AS3MT, SPARC/CALM1, PLOD1/EOGT}
 \draw[edge] (\a) -- (\b);
\foreach \a/\b in {CALM1/CAMK2B, CALM1/GRK6, CALM1/PRKAR2B, CALM1/SYNJ2BP, CALM1/STK19, CALM1/GRM1, CALM1/PRKCD, CALM1/AKAP2, CALM1/PRKAB2, CALM1/CTNNB1, CALM1/GPSM1, CALM1/SWAP70, CALM1/SPAG9, CALM1/STAMBP, CALM1/BCAM, PRKCD/PKDCC, SPAG9/BCAM, ROR1/CTNNB1, TBK1/GPSM1, PRKAR2B/AKAP2, CTNNB1/SWAP70, PKDCC/ROR1, TBK1/ROR1, GRM1/GPSM1, CALM1/GATM, CALM1/CTH, CALM1/BCKDHA, CALM1/HK3, CALM1/GPI, CALM1/AHCYL2, CALM1/BLVRA, CALM1/PMM2, CALM1/PIGN, CALM1/AS3MT, CALM1/GLT8D1, CALM1/PDK3, CALM1/LPGAT1, CALM1/HSD11B2, CALM1/CAND1, CTNNB1/ABAT, PRKCD/COMT, AKAP2/NFS1, SPAG9/ASRGL1, PRKAB2/MAOB, CTNNB1/CDK4, PRKCD/APRT, CALM1/ALDOB, CALM1/FNTB, CALM1/GRHPR, CALM1/DECR2,
GATM/GAMT, GAMT/NFS1, NFS1/ABAT, ABAT/MAOB, GRHPR/CCBL2, CCBL2/CTH, CTH/BCKDHA, BCKDHA/ASRGL1, ASRGL1/AHCYL2, COMT/GAMT, CCBL2/NFS1, GOT2/GATM, GOT2/CCBL2, APRT/ABAT, ADSS/GOT2, GALK2/MAOB, ABAT/BLVRB, GRHPR/BLVRB, BLVRB/BLVRA, CTH/MOGS, BCKDHA/AS3MT,
GNPDA2/DERA, DERA/PFKM, PFKM/ALDOB, ALDOB/HK3, HK3/GPI, GPI/PDK3, PFKM/GPI, LDHC/PFKM, GOT2/GPI, PDK3/DERA, GNPDA2/BAG2, ALDOB/FNTB, HK3/CAND1, PFKM/AUP1, LDHC/PFDN6, GPI/HSD11B2, PDK3/ACAD11,
PLCH1/MUT, MUT/GBA, SCD/LDAH, LDAH/PLD3, PLD3/CPT1B, STAR/TM7SF2, TM7SF2/CYP11A1, PLA2G15/PLA2G4A, DECR2/GALC, HSD11B2/CYP11A1, LPGAT1/LACTB, FDPS/ACAD11, ACAD11/CPT2, CPT2/SCD5, PCYT2/SCD5, ABHD2/FDPS, ECH1/DECR2, GBA/CPT1B, PLA2G4A/LPGAT1, DECR2/PCYT2, PLD3/PLA2G15, GALC/GNPDA2, ECH1/TCP1, CPT1B/DNAJA4, GBA/SRRM2, LACTB/DERA, SCD5/GATM, PCYT2/PDK3, LPGAT1/COMT, PLA2G4A/CCBL2, FDPS/ABAT, CYP11A1/APRT, HSD11B2/NFS1, STAR/SMG6, SCD/SSU72, MUT/CHERP, DECR2/BAG2, SCD/STAR, TM7SF2/HSD11B2,
DNAJA4/TCP1, TCP1/CCT5, PFDN6/CCT5, BAG2/PFDN6, DNAJA4/PFDN6, TCP1/CAND1, CCT5/CUL5, BAG2/AUP1, DNAJA4/PRKRA, TCP1/IMPACT, CCT5/ADRM1, PFDN6/SRSF4, BAG2/NUDT4,
CAND1/CUL5, CUL5/PDZRN3, CAND1/COPS7B, COPS7B/ECM29, ECM29/OS9, SENP8/PDZRN3, ADRM1/OS9, SENP8/ADRM1, CAND1/ECM29, CUL5/COPS7B, CAND1/PRKRA, CAND1/DDX3X, CAND1/RPN2, CUL5/IMPACT, CAND1/HEPH, ECM29/DRG2, ADRM1/EXT1, SENP8/AUP1, OS9/DNM1L, ADRM1/GPAA1, COPS7B/EIF2S3, CAND1/TRAM1, CUL5/THOC2, PDZRN3/BAG2, CAND1/LSM3, CAND1/SPCS3, CAND1/PIGS, CAND1/MRPS28, CAND1/CLTC, CAND1/KPNA1, CAND1/DNAJC3, CAND1/IMPACT, CUL5/PRKRA, CAND1/EIF2S2,
EXT1/NUDT4, NUDT4/GPAA1, GPAA1/ALG3, GLT8D1/FNTB, FNTB/PMM2, PMM2/PIGS, AFG3L2/MOGS, ADPRHL2/EOGT, MOGS/PIGN, EOGT/RENBP, AS3MT/GXYLT1, RENBP/GXYLT1, PMM2/ALG3, GPAA1/PIGN, EXT1/GLT8D1, PIGS/DNM1L, PIGN/RMDN3, ALG3/NMT1, GXYLT1/ANXA11, RENBP/MTPN, MOGS/DYRK1A, GPAA1/CASP8}
 \draw[edge] (\a) -- (\b);

% pass 2: dots
\let\GN\GNd \genelist

% ---------- outlines ----------
\EL{eChrom}{162}{202}{115}{100}{thinell}
\EL{eRepl}{366}{183}{83}{70}{thinell}
\EL{eTransc}{265}{406}{165}{104}{thinell}
\EL{eMitoBio}{926}{107}{93}{63}{thinell}
\EL{eProtOrg}{1156}{444}{166}{111}{thinell}
\EL{eNucl}{966}{594}{96}{60}{thinell}
\EL{eFold}{502}{785}{76}{53}{thinell}
\EL{eDegr}{676}{820}{97}{67}{thinell}
\EL{eIron}{890}{817}{79}{61}{thinell}
\EL{eSalv}{110}{1065}{60}{45}{thinell}
\EL{eSignal}{355}{1326}{155}{126}{thinell}
\EL{eECM}{675}{1346}{118}{111}{thinell}
\EL{eGrowth}{846}{1127}{91}{75}{thinell}
\EL{eMicro}{1172}{1079}{81}{64}{thinell}
\EL{eRRNA}{614}{346}{159}{146}{thickell}
\EL{eImport}{991}{190}{86}{77}{thickell}
\EL{eResp}{1117}{180}{114}{98}{thickell}
\EL{eMitoTr}{875}{465}{105}{77}{thickell}
\EL{eSplic}{453}{562}{111}{101}{thickell}
\EL{eTransl}{677}{563}{114}{131}{thickell}
\EL{eMRNA}{231}{582}{88}{53}{thickell}
\EL{eLipid}{202}{843}{172}{107}{thickell}
\EL{eGluc}{422}{950}{83}{77}{thickell}
\EL{eAmino}{333}{1058}{117}{90}{thickell}
\EL{ePTM}{628}{1022}{102}{125}{thickell}
\EL{eApopt}{847}{990}{88}{52}{thickell}
\EL{eCell}{1072}{1103}{102}{61}{thickell}
\EL{eFocal}{926}{1352}{91}{75}{thickell}
\EL{eActin}{1095}{1345}{172}{133}{thickell}
\EL{eVesic}{1112}{792}{215}{135}{thickell}

% pass 3: gene labels
\let\GN\GNt \genelist

% ---------- category labels ----------
\node[cat] (lChrom) at (145,79) {Chromatin organization};
\node[cat] (lRepl) at (371,75) {Replication\\DNA Repair};
\node[cat] (lMitoBio) at (874,22) {Mitochondrial biogenesis};
\node[cat] (lTransc) at (97,498) {Transcription};
\node[cat] (lFold) at (503,715) {Folding};
\node[cat] (lDegr) at (705,738) {Protein degradation};
\node[cat] (lNucl) at (883,676) {Nucleocytoplasmic\\transport};
\node[cat] (lProtOrg) at (1187,587) {Protein, organelle\\and other transport};
\node[cat] (lSalv) at (110,1130) {Salvage pathway};
\node[cat] (lSignal) at (357,1468) {Signal transduction};
\node[cat] (lECM) at (652,1218) {ECM organization};
\node[cat] (lGrowth) at (853,1219) {Growth};
\node[cat] (lMicro) at (1222,1162) {Microtubule};
\node[reg] (lIron) at (860,900) {Iron uptake};
\node[reg] (lSurv) at (983,1007) {Survival};
\node[blk] (lRRNA) at (615,171) {rRNA processing\\Ribosome biogenesis};
\node[blk] (lResp) at (1195,56) {Respiratory electron\\transport};
\node[blk] (lImport) at (943,302) {Mitochondrial\\protein import};
\node[blk] (lMitoTr) at (890,363) {Mitochondrial\\translation};
\node[blk] (lMRNA) at (155,648) {mRNA surveillance};
\node[blk] (lSplic) at (448,681) {Splicing};
\node[blk] (lTransl) at (710,710) {Translation};
\node[blk] (lLipid) at (187,717) {Lipid and Lipoprotein};
\node[blk] (lGluc) at (438,860) {Glucose};
\node[blk] (lAmino) at (332,1165) {Amino acid and derivatives};
\node[blk] (lPTM) at (628,1165) {PTM};
\node[blk] (lVesic) at (1167,947) {Vesicle mediated transport};
\node[blk] (lApopt) at (1000,982) {Apoptosis};
\node[blk] (lCell) at (1023,1182) {Cell Cycle};
\node[blk] (lFocal) at (870,1444) {Focal adhesion};
\node[blk] (lActin) at (1148,1506) {Actin cytoskeleton\\regulation};
\node[big] (lExpr) at (575,104) {Expression};
\node[big] (lTransp) at (1225,633) {Transport};
\node[big] (lMetab) at (120,978) {Metabolism};
\node[big] (lCyto) at (820,1503) {Cytoskeleton};
\end{tikzpicture}
\end{document}
